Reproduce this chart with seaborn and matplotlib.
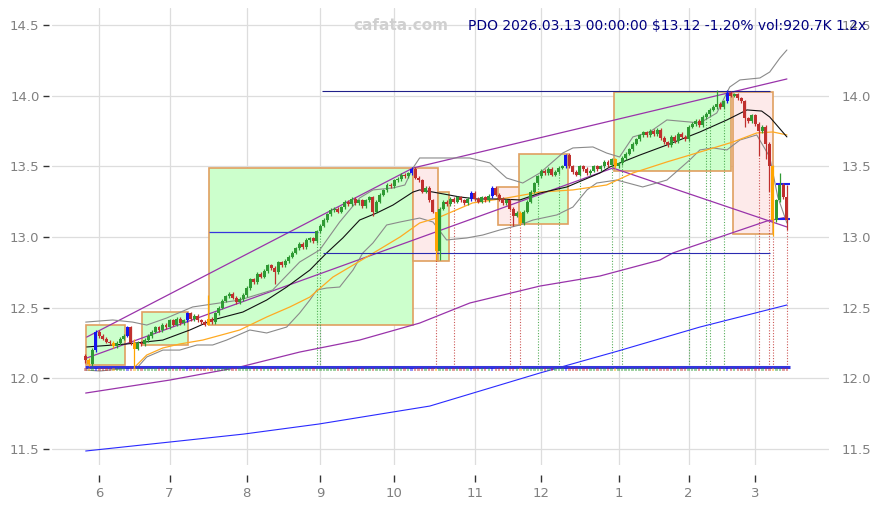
import numpy as np
import pandas as pd
import seaborn as sns
import matplotlib
matplotlib.use('Agg')
import matplotlib.pyplot as plt
from matplotlib.patches import Rectangle

# trading days (no weekend / US market holidays) -> x axis is the bar index
holidays = ['2025-06-19', '2025-07-04', '2025-09-01', '2025-11-27',
            '2025-12-25', '2026-01-01', '2026-01-19', '2026-02-16']
dates = pd.bdate_range('2025-05-27', '2026-03-13', freq='C', holidays=holidays)

first_open = 12.16
close = [12.13, 12.10, 12.20, 12.33, 12.30, 12.28, 12.26, 12.25, 12.23, 12.25,
         12.28, 12.30, 12.36, 12.25, 12.21, 12.25, 12.24, 12.27, 12.30, 12.33,
         12.36, 12.34, 12.38, 12.36, 12.41, 12.38, 12.42, 12.39, 12.41, 12.46,
         12.42, 12.44, 12.41, 12.40, 12.38, 12.42, 12.40, 12.46, 12.50, 12.55,
         12.58, 12.60, 12.57, 12.54, 12.56, 12.59, 12.64, 12.70, 12.68, 12.74,
         12.72, 12.76, 12.80, 12.78, 12.75, 12.82, 12.80, 12.83, 12.86, 12.89,
         12.92, 12.95, 12.93, 12.98, 12.99, 12.97, 13.04, 13.08, 13.12, 13.16,
         13.19, 13.20, 13.18, 13.21, 13.25, 13.23, 13.27, 13.24, 13.26, 13.22,
         13.26, 13.28, 13.18, 13.25, 13.30, 13.33, 13.37, 13.36, 13.40, 13.41,
         13.44, 13.43, 13.45, 13.48, 13.42, 13.40, 13.32, 13.35, 13.26, 13.18,
         12.90, 13.20, 13.25, 13.23, 13.27, 13.25, 13.28, 13.26, 13.24, 13.27,
         13.31, 13.27, 13.25, 13.28, 13.26, 13.29, 13.35, 13.30, 13.27, 13.24,
         13.26, 13.20, 13.15, 13.17, 13.10, 13.18, 13.25, 13.32, 13.38, 13.43,
         13.47, 13.45, 13.48, 13.44, 13.46, 13.49, 13.50, 13.58, 13.50, 13.46,
         13.44, 13.50, 13.48, 13.45, 13.47, 13.50, 13.48, 13.50, 13.53, 13.51,
         13.55, 13.50, 13.52, 13.56, 13.59, 13.62, 13.66, 13.69, 13.72, 13.74,
         13.72, 13.75, 13.73, 13.76, 13.70, 13.67, 13.65, 13.71, 13.68, 13.73,
         13.71, 13.69, 13.78, 13.80, 13.82, 13.79, 13.85, 13.87, 13.90, 13.92,
         13.94, 13.92, 13.96, 14.02, 14.00, 14.01, 13.98, 13.96, 13.84, 13.82,
         13.86, 13.80, 13.75, 13.78, 13.66, 13.50, 13.12, 13.26, 13.37, 13.28,
         13.12]
wick_lo = {0: 12.11, 12: 12.29, 14: 12.07, 35: 12.38, 54: 12.67, 82: 13.15,
           100: 12.84, 101: 12.84, 122: 13.08, 188: 13.78, 192: 13.57,
           194: 13.55, 195: 13.32, 196: 13.01, 200: 13.05}
wick_hi = {14: 12.28, 35: 12.59, 100: 13.18, 137: 13.59, 180: 14.04,
           183: 14.04, 198: 13.45, 200: 13.37}
blue_idx = [3, 12, 29, 93, 110, 116, 137, 183]
orange_idx = [1, 8, 14, 35, 100, 124, 151, 196]

# indicator lines (bar index, price)
ma_x = [0.4, 11.8, 22.1, 29.8, 36.3, 44.9, 51.7, 57.4, 64.0, 68.8, 73.4, 78.2,
        83.1, 87.7, 93.4, 95.3, 99.1, 106.8, 111.6, 118.2, 123.9, 129.6, 137.3,
        146.7, 149.5, 158.1, 165.8, 175.2, 182.9, 188.6, 192.8, 195.1, 200.0]
ma_y = [12.222, 12.243, 12.271, 12.342, 12.413, 12.469, 12.554, 12.646, 12.766,
        12.887, 12.993, 13.120, 13.170, 13.226, 13.318, 13.333, 13.318, 13.283,
        13.269, 13.269, 13.262, 13.311, 13.354, 13.453, 13.495, 13.580, 13.651,
        13.743, 13.828, 13.899, 13.891, 13.849, 13.708]
slow_x = [14.1, 17.5, 22.1, 26.9, 33.5, 44.0, 51.7, 58.3, 64.0, 70.6, 80.2,
          89.7, 95.3, 101.0, 110.4, 120.1, 129.6, 139.0, 148.6, 156.1, 165.8,
          175.2, 184.6, 191.4, 196.0, 200.0]
slow_y = [12.08, 12.165, 12.215, 12.243, 12.271, 12.342, 12.434, 12.505, 12.575,
          12.717, 12.858, 13.0, 13.099, 13.141, 13.241, 13.276, 13.318, 13.333,
          13.368, 13.453, 13.531, 13.601, 13.672, 13.736, 13.743, 13.722]
bb_up_x = [0.1, 7.8, 13.5, 17.5, 23.2, 30.6, 44.0, 53.4, 61.1, 66.8, 72.5,
           78.2, 82.0, 87.7, 91.1, 93.4, 95.3, 109.6, 115.3, 120.1, 124.7,
           129.6, 136.1, 139.0, 144.7, 148.6, 152.3, 156.1, 160.9, 165.8,
           175.2, 180.0, 183.7, 186.6, 192.3, 195.1, 198.0, 200.0]
bb_up_y = [12.398, 12.413, 12.398, 12.377, 12.427, 12.505, 12.554, 12.625,
           12.823, 12.908, 13.106, 13.276, 13.333, 13.347, 13.368, 13.488,
           13.559, 13.559, 13.524, 13.417, 13.382, 13.453, 13.594, 13.630,
           13.637, 13.594, 13.566, 13.708, 13.743, 13.828, 13.807, 13.877,
           14.061, 14.111, 14.125, 14.167, 14.266, 14.323]
bb_lo_x = [0.1, 4.1, 12.7, 14.7, 17.5, 22.1, 26.9, 31.8, 36.3, 40.3, 46.9,
           51.7, 57.4, 61.1, 64.0, 66.0, 68.8, 72.5, 76.3, 79.1, 82.0, 85.9,
           89.7, 95.3, 99.1, 103.0, 108.7, 113.3, 118.2, 123.9, 127.6, 134.4,
           139.0, 143.0, 145.8, 151.5, 158.9, 165.8, 172.3, 175.2, 178.9,
           182.9, 186.6, 191.4, 195.1, 197.4, 200.0]
bb_lo_y = [12.059, 12.052, 12.073, 12.073, 12.151, 12.200, 12.200, 12.236,
           12.236, 12.271, 12.342, 12.321, 12.363, 12.462, 12.554, 12.625,
           12.639, 12.646, 12.766, 12.887, 12.958, 13.085, 13.106, 13.134,
           13.106, 12.979, 12.993, 13.014, 13.050, 13.085, 13.120, 13.156,
           13.212, 13.333, 13.382, 13.403, 13.354, 13.403, 13.545, 13.616,
           13.630, 13.616, 13.686, 13.722, 13.566, 13.283, 13.099]
ch_up_x = [0.4, 93.4, 200.0]
ch_up_y = [12.292, 13.488, 14.118]
ch_mid_x = [0.4, 150.4, 200.0]
ch_mid_y = [12.144, 13.488, 13.071]
ch_lo_x = [0.1, 24.1, 44.0, 61.1, 78.2, 95.3, 109.6, 129.6, 146.7, 163.8,
           167.5, 194.3, 200.0]
ch_lo_y = [11.896, 11.988, 12.080, 12.186, 12.271, 12.391, 12.533, 12.653,
           12.724, 12.837, 12.887, 13.113, 13.141]
long_x = [0.1, 26.9, 45.2, 66.6, 87.7, 98.2, 118.2, 129.6, 151.8, 175.2, 200.0]
long_y = [11.486, 11.557, 11.606, 11.677, 11.762, 11.804, 11.953, 12.038,
          12.193, 12.363, 12.519]

# horizontal levels: price, start bar, end bar, colour, width
levels = [(12.08, 0.0, 201.0, '#3535dd', 2.2),
          (13.035, 35.2, 66.3, '#3535dd', 0.9),
          (12.887, 67.7, 195.1, '#2a2ab0', 0.8),
          (14.033, 67.4, 195.1, '#20208a', 0.8),
          (13.375, 196.8, 201.0, '#2020ee', 1.5),
          (13.13, 196.8, 201.0, '#2020ee', 1.5)]

# boxes: start bar, end bar, low, high, direction
box_x0 = [0.1, 16.1, 35.2, 93.3, 100.5, 117.6, 123.6, 150.7, 184.6]
box_x1 = [11.2, 29.2, 93.3, 100.5, 103.6, 123.9, 137.5, 184.0, 196.0]
box_lo = [12.095, 12.236, 12.377, 12.83, 12.83, 13.085, 13.092, 13.467, 13.021]
box_hi = [12.38, 12.47, 13.488, 13.488, 13.318, 13.354, 13.587, 14.026, 14.026]
box_dir = ['up', 'up', 'up', 'down', 'up', 'down', 'up', 'up', 'down']

dot_red = [100, 105, 121, 124, 192, 195, 196, 200]
dot_green = [66, 67, 129, 135, 141, 150, 153, 172, 177, 178, 182]

title = 'PDO 2026.03.13 00:00:00 $13.12 -1.20% vol:920.7K 1.2x'

# ---------------------------------------------------------------
n = len(close)
dates = dates[-n:]
opens = [first_open] + close[:-1]
idx = np.arange(n)
df = pd.DataFrame({'date': dates, 'open': opens, 'close': close})
df['top'] = df[['open', 'close']].max(axis=1)
df['bot'] = df[['open', 'close']].min(axis=1)
WICK = 0.012
df['high'] = [wick_hi.get(i, t + WICK) for i, t in enumerate(df['top'])]
df['low'] = [wick_lo.get(i, b - WICK) for i, b in enumerate(df['bot'])]
UP, DOWN = '#2f9a34', '#c0302e'
cols = np.where(df['close'] >= df['open'], UP, DOWN).astype(object)
for i in blue_idx:
    cols[i] = '#1515ee'
for i in orange_idx:
    cols[i] = '#ffa500'

sns.set_style('whitegrid')
plt.rcParams['font.family'] = ['DejaVu Sans']
fig = plt.figure(figsize=(8.76, 5.05), dpi=100)
ax = fig.add_axes([52 / 876, 40 / 505, (829 - 52) / 876, (465 - 8) / 505])

# boxes
for x0, x1, lo, hi, d in zip(box_x0, box_x1, box_lo, box_hi, box_dir):
    fc = '#ccffcc' if d == 'up' else '#fdeaea'
    ax.add_patch(Rectangle((x0, lo), x1 - x0, hi - lo, facecolor=fc,
                           edgecolor='#e0a060', lw=1.2, zorder=1))

# dotted verticals from bar low down to the base line
ax.vlines(dot_red, 12.08, df['low'].iloc[dot_red], colors=DOWN, lw=0.8,
          linestyles=(0, (1, 1.5)), zorder=2, alpha=0.8)
ax.vlines(dot_green, 12.08, df['low'].iloc[dot_green], colors=UP, lw=0.8,
          linestyles=(0, (1, 1.5)), zorder=2, alpha=0.8)

# indicator lines
def line(xs, ys, color, lw=0.8, alpha=1.0):
    sns.lineplot(x=xs, y=ys, color=color, lw=lw, alpha=alpha, ax=ax,
                 sort=False, estimator=None, zorder=3)

line(long_x, long_y, '#2a2aff')
line(ch_lo_x, ch_lo_y, '#9933aa', 0.9)
line(ch_mid_x, ch_mid_y, '#9933aa', 0.9)
line(ch_up_x, ch_up_y, '#9933aa', 0.9)
line(bb_up_x, bb_up_y, '#8a8a8a', 0.8)
line(bb_lo_x, bb_lo_y, '#8a8a8a', 0.8)
line(slow_x, slow_y, '#ffaa22', 0.9)
line(ma_x, ma_y, '#111111', 0.8)

for y, a, b, c, w in levels:
    ax.hlines(y, a, b, colors=c, lw=w, zorder=3)

# per-bar direction ticks under the base line
ax.scatter(idx, np.full(n, 12.062), c=list(cols), marker='s', s=3,
           alpha=0.45, linewidths=0, zorder=3)

# candles
ax.vlines(idx, df['low'], df['high'], colors=list(cols), lw=0.9, zorder=4)
ax.bar(idx, np.maximum(df['top'] - df['bot'], 0.008), bottom=df['bot'],
       width=0.85, color=list(cols), linewidth=0, zorder=5)

# axes cosmetics
month_pos = [i for i in range(1, n) if dates[i].month != dates[i - 1].month]
ax.set_xticks(month_pos)
ax.set_xticklabels([str(dates[i].month) for i in month_pos])
yt = np.arange(11.5, 14.51, 0.5)
ax.set_yticks(yt)
ax.set_yticklabels([f'{v:.1f}' for v in yt])
ax.set_xlim(-9.5, 212)
ax.set_ylim(11.387, 14.62)
ax.grid(True, color='#dddddd', lw=0.9)
ax.set_axisbelow(True)
for s in ax.spines.values():
    s.set_visible(False)
ax.spines['bottom'].set_position(('outward', 7))
ax.spines['left'].set_position(('outward', 2))
ax.spines['right'].set_position(('outward', 2))
ax.tick_params(axis='x', bottom=True, length=5, width=1, pad=4,
               color='#333333', labelcolor='#808080', labelsize=9.5)
ax.tick_params(axis='y', left=True, right=False, labelleft=True,
               labelright=True, length=4, width=1, pad=3,
               color='#333333', labelcolor='#808080', labelsize=9.5)
ax.set_xlabel('')
ax.set_ylabel('')

fig.text(401 / 876, 1 - 25 / 505, 'cafata.com', color='#d0d0d0',
         fontsize=11, weight='bold', ha='center', va='center')
fig.text(866 / 876, 1 - 26 / 505, title, color='#000080', fontsize=10,
         ha='right', va='center')

plt.savefig('out.png', dpi=100)
